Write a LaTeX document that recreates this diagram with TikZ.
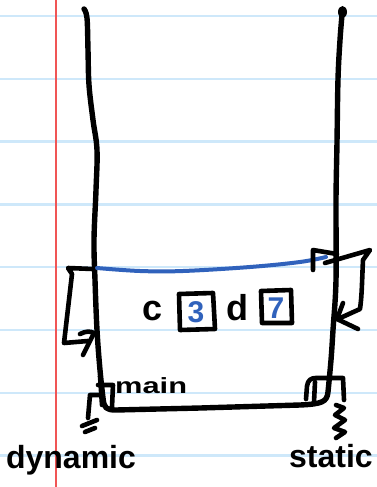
\documentclass[tikz,border=0pt]{standalone}
\usepackage{fontspec}
\setmainfont{Liberation Sans}
\definecolor{ruled}{RGB}{206,232,250}
\definecolor{margin}{RGB}{240,85,85}
\definecolor{inkblue}{RGB}{48,98,188}
\tikzset{
  ink/.style={line width=5.4pt, line cap=round, line join=round, black},
  thinink/.style={line width=4.6pt, line cap=round, line join=round, black},
  blueink/.style={line width=4pt, line cap=round, line join=round, inkblue},
  hand/.style={inner sep=0pt, font=\fontsize{#1}{#1}\selectfont\bfseries},
  hand/.default=30
}
\begin{document}
\begin{tikzpicture}[x=1pt,y=-1pt]
  \useasboundingbox (0,0) rectangle (377,487);
  \fill[white] (0,0) rectangle (377,487);

  % ruled notebook paper
  \foreach \yy in {16,78.8,141.6,204.4,267.2,330,392.8,455.6}
    \draw[ruled, line width=2.4pt] (0,\yy) -- (377,\yy);
  \draw[margin, line width=2.4pt] (56,0) -- (56,487);

  % stack: left wall, bottom, right wall
  \draw[ink] plot[smooth, tension=0.6] coordinates {
    (84,9) (87,18) (88,50) (89,85) (93,120) (97,150) (96,190) (94,240)
    (95,280) (97,330) (100,370) (103,398)}
    .. controls (104,408) and (106,410) .. (116,410)
    -- (200,408) -- (300,405)
    .. controls (322,404) and (327,402) .. (328,392)
    plot[smooth, tension=0.6] coordinates {
    (328,392) (331,360) (333,330) (336,280) (336,200) (337,142) (338,79)
    (340,40) (342,15)};
  \fill (342.5,12) ellipse [x radius=4.5pt, y radius=6pt];

  % top of the current frame
  \draw[blueink] plot[smooth, tension=0.6] coordinates {
    (97,268) (140,271) (183,271) (250,267) (300,262) (326,257)};

  % dynamic link of the frame
  \draw[thinink] (93,269) -- (68,268) -- (72,274) -- (64,343) -- (88,341);
  \draw[thinink] (80,334) .. controls (86,331) and (90,331) .. (94,333)
    -- (83,355);

  % static link of the frame
  \draw[thinink] (313,270) -- (313,250) -- (337,254);
  \draw[thinink] (325,263) -- (370,250) -- (363,260)
    .. controls (362,280) and (362,295) .. (360,309) -- (338,319);
  \draw[thinink] (343,303) -- (337,319) -- (358,329);

  % contents of the frame
  \node[hand=36] (c) at (153,311) {c};
  \draw[thinink] (179,294) -- (213,293) -- (215,329) -- (180,330) -- cycle;
  \node[hand=30, text=inkblue] (three) at (196,312) {3};
  \node[hand=36] (d) at (237,308) {d};
  \draw[thinink] (261,291) -- (291,290) -- (292,323) -- (262,323) -- cycle;
  \node[hand=30, text=inkblue] (seven) at (276,308) {7};

  % bottom frame: main
  \draw[thinink] (98,385) -- (113,385) -- (112,407);
  \draw[thinink] (100,376) -- (102,405);
  \node[hand=22, anchor=base west] (main) at (115,393) {\scalebox{1.4}[1]{main}};
  \draw[thinink] (101,395) -- (90,395) -- (88,418);
  \draw[thinink] (82,426) -- (97,420);
  \draw[thinink] (85,432) -- (95,428);

  % main has no static link
  \draw[thinink] (306,399) -- (307,386) .. controls (308,380) and (311,378) .. (316,378)
    -- (343,378) -- (344,400);
  \draw[thinink] (315,382) -- (314,402);
  \draw[thinink] (336,405) -- (344,408) -- (335,415) -- (345,420) -- (334,428)
    -- (345,432) -- (336,438);

  % labels
  \node[hand=32, anchor=base] (dyn) at (71,468) {dynamic};
  \node[hand=32, anchor=base] (stat) at (331,467) {static};
\end{tikzpicture}
\end{document}
